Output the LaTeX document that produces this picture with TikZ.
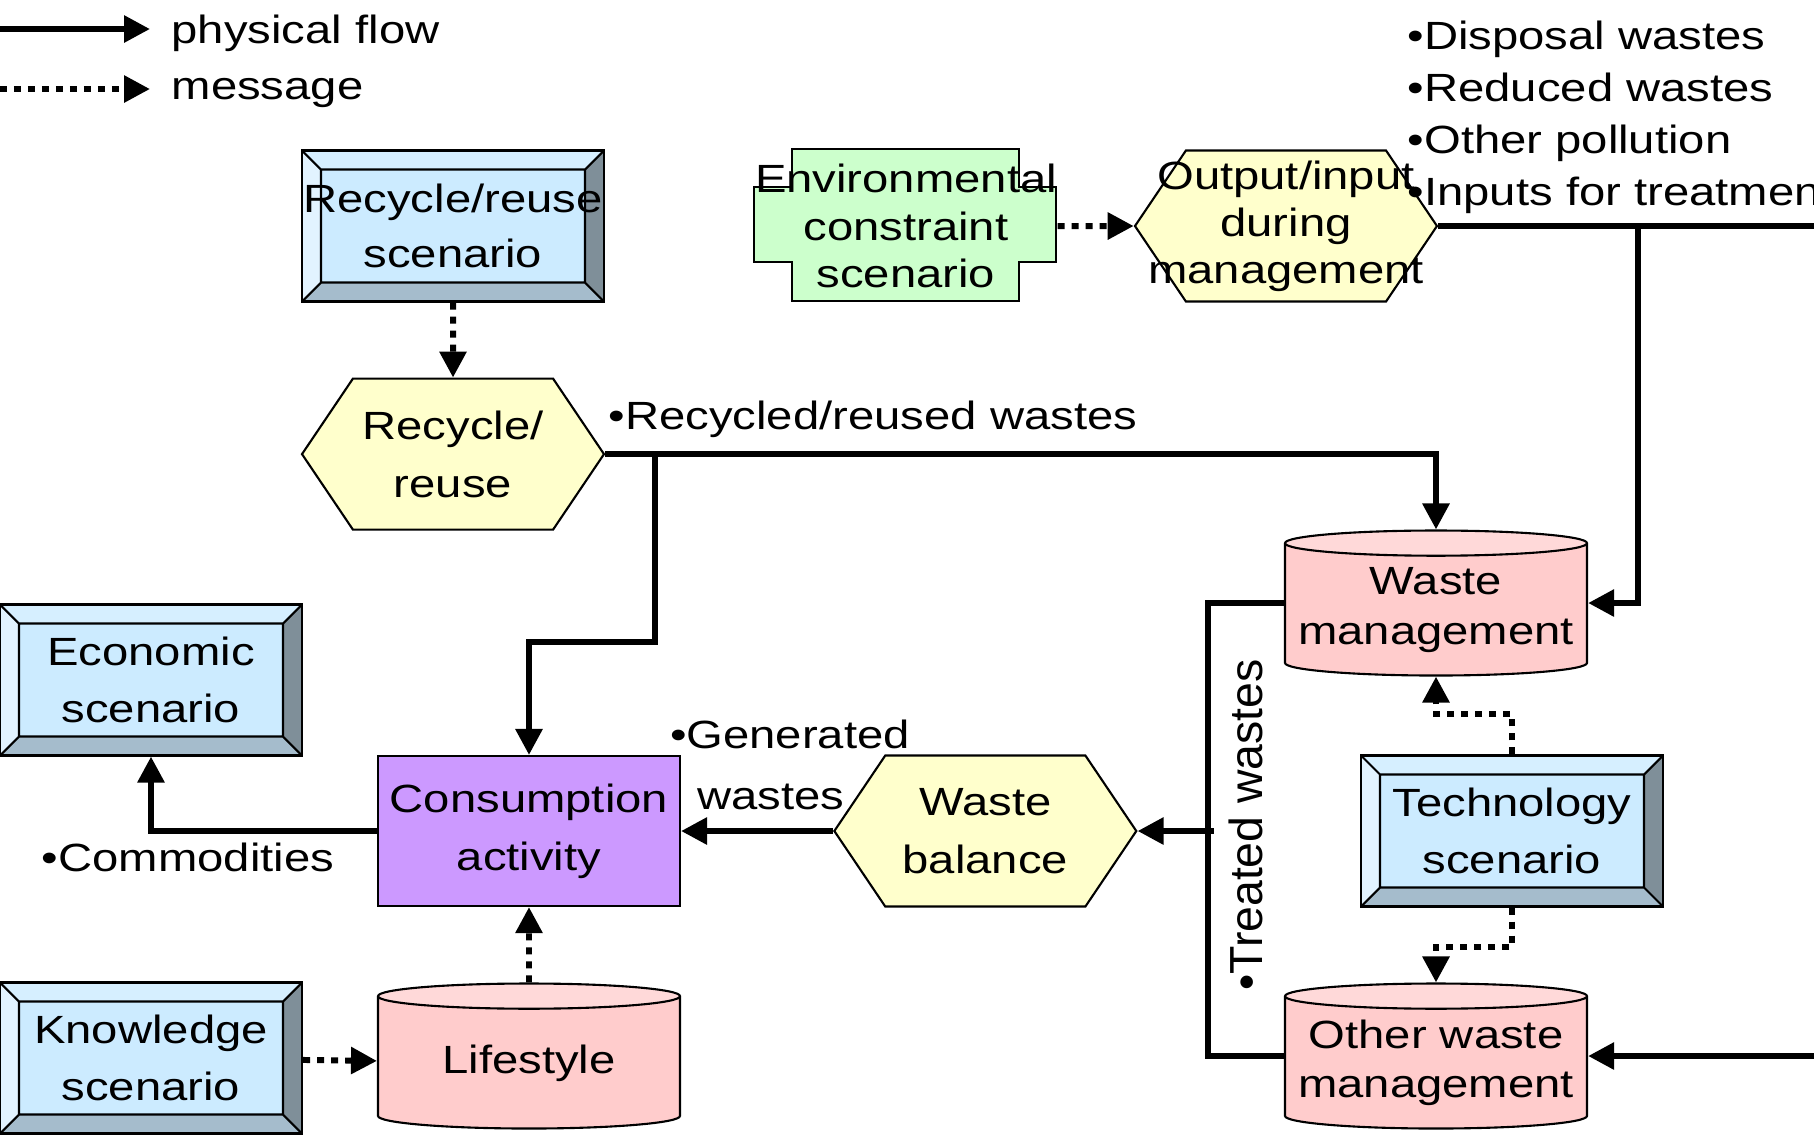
\documentclass[tikz,border=0pt]{standalone}
\usepackage{fontspec}
\setmainfont[FakeStretch=1.2]{Liberation Sans}
\newfontfamily\upsans{Liberation Sans}
\usetikzlibrary{shapes.geometric,shapes.symbols,positioning,arrows.meta,calc,backgrounds}

\definecolor{scenface}{RGB}{204,235,255}
\definecolor{scentop}{RGB}{214,239,255}
\definecolor{scenleft}{RGB}{226,243,255}
\definecolor{scenright}{RGB}{127,143,153}
\definecolor{scenbot}{RGB}{165,188,204}
\definecolor{hexfill}{RGB}{255,255,204}
\definecolor{envfill}{RGB}{204,255,204}
\definecolor{actfill}{RGB}{204,153,255}
\definecolor{dbbody}{RGB}{255,204,204}
\definecolor{dbtop}{RGB}{255,217,217}

\newcommand\fitline[1]{\makebox[\linewidth]{#1}}

\begin{document}
\begin{tikzpicture} [
    x=0.1mm, y=-0.1mm,
    font=\fontsize{11.2}{16.4}\selectfont,
    scenario/.style = { rectangle, draw, line width=0.6pt, fill=scenface,
                        minimum width=30.2mm, minimum height=15.1mm,
                        text width=30.2mm, inner sep=0pt, align=center,
                        path picture={
                          \coordinate (pa) at (path picture bounding box.north west);
                          \coordinate (pb) at (path picture bounding box.north east);
                          \coordinate (pc) at (path picture bounding box.south east);
                          \coordinate (pd) at (path picture bounding box.south west);
                          \fill[scentop]   (pa) -- (pb) -- ($(pb)+(-19,19)$) -- ($(pa)+(19,19)$) -- cycle;
                          \fill[scenright] (pb) -- (pc) -- ($(pc)+(-19,-19)$) -- ($(pb)+(-19,19)$) -- cycle;
                          \fill[scenbot]   (pc) -- (pd) -- ($(pd)+(19,-19)$) -- ($(pc)+(-19,-19)$) -- cycle;
                          \fill[scenleft]  (pd) -- (pa) -- ($(pa)+(19,19)$) -- ($(pd)+(19,-19)$) -- cycle;
                          \draw[line width=0.6pt] ($(pa)+(19,19)$) rectangle ($(pc)+(-19,-19)$)
                            (pa) -- ++(19,19) (pb) -- ++(-19,19) (pc) -- ++(-19,-19) (pd) -- ++(19,-19);
                        } },
    hexa/.style     = { signal, signal to=west and east, signal pointer angle=112,
                        draw, line width=0.6pt, fill=hexfill,
                        minimum width=30.2mm, minimum height=15.1mm,
                        text width=19.5mm, inner sep=0pt, align=center },
    store/.style    = { cylinder, shape border rotate=90, aspect=0.09,
                        draw, line width=0.6pt, cylinder uses custom fill,
                        cylinder body fill=dbbody, cylinder end fill=dbtop,
                        minimum width=30.2mm, minimum height=14.5mm,
                        text width=28mm, inner sep=0pt, align=center,
                        anchor=shape center,
                        font=\fontsize{11.2}{14.2}\selectfont },
    activity/.style = { rectangle, draw, line width=0.6pt, fill=actfill,
                        minimum width=30.2mm, minimum height=15mm,
                        text width=30.2mm, inner sep=0pt, align=center },
    envbox/.style   = { rectangle, minimum width=30.2mm, minimum height=15.2mm,
                        text width=30.2mm, inner sep=0pt, align=center,
                        font=\fontsize{11.2}{13.4}\selectfont },
    tag/.style      = { inner sep=0pt, align=center },
    flow/.style     = { draw, line width=1.7pt, -{Triangle[length=2.6mm,width=2.6mm]} },
    msg/.style      = { flow, dash pattern=on 0.7mm off 0.7mm },
    link/.style     = { draw, line width=1.7pt },
  ]
  \useasboundingbox (0,0) rectangle (1814,1135);

  % legend
  \coordinate (lgflow) at (0,29);
  \coordinate (lgflowend) at (150,29);
  \coordinate (lgmsg) at (0,89);
  \coordinate (lgmsgend) at (150,89);
  \node (lgflowtxt) [tag, anchor=west] at (171,33) {physical flow};
  \node (lgmsgtxt) [tag, anchor=west] at (171,93) {message};
  \draw[flow] (lgflow) -- (lgflowend);
  \draw[msg] (lgmsg) -- (lgmsgend);

  % scenarios and activities
  \node (recscen) [scenario, font=\fontsize{11.2}{15.8}\selectfont] at (453,226)
        {\fitline{Recycle/reuse}\\scenario};
  \node (rechex) [hexa, below=7.5mm of recscen] {Recycle/\\reuse};
  \node (envscen) [envbox] at (906,226) {\fitline{Environmental}\\constraint\\scenario};
  \node (outhex) [hexa, right=7.6mm of envscen, font=\fontsize{11.2}{13.4}\selectfont]
        {\fitline{Output/input}\\during\\\fitline{management}};
  \node (consact) [activity] at (529,831) {Consumption\\activity};
  \node (wastebal) [hexa, right=15.2mm of consact] {Waste\\balance};
  \node (lifestyle) [store] at (529,1056) {Lifestyle};
  \node (knowscen) [scenario] at (151,1058) {Knowledge\\scenario};
  \node (econscen) [scenario] at (151,680) {Economic\\scenario};
  \node (wastemgmt) [store] at (1436,603) {Waste\\management};
  \node (othermgmt) [store] at (1436,1056) {Other waste\\management};
  \node (techscen) [scenario] at (1512,831) {Technology\\scenario};

  \begin{scope}[on background layer]
    \filldraw[fill=envfill, line width=0.6pt] ([xshift=3.8mm]envscen.north west)
      -- ++(227,0) -- ++(0,38) -- ++(37,0) -- ++(0,75) -- ++(-37,0) -- ++(0,39)
      -- ++(-227,0) -- ++(0,-39) -- ++(-38,0) -- ++(0,-75) -- ++(38,0) -- cycle;
  \end{scope}

  % labels
  \node (recyclab) [tag, anchor=west] at (608,419) {\textbullet Recycled/reused wastes};
  \node (genlab) [tag, font=\fontsize{11.2}{17.4}\selectfont] at (790,765)
        {\textbullet Generated\\wastes\hspace*{3.8mm}};
  \node (commlab) [tag] at (188,857) {\textbullet Commodities};
  \node (treatlab) [tag, rotate=90, font=\upsans\fontsize{13.2}{15}\selectfont]
        at (1246,825) {\textbullet Treated wastes};
  \node (outlab) [tag, anchor=north west, align=left,
                  font=\fontsize{11.2}{14.8}\selectfont] at (1407,20)
        {\textbullet Disposal wastes\\\textbullet Reduced wastes\\
         \textbullet Other pollution\\\textbullet Inputs for treatment};

  % connect nodes
  \coordinate (recsplit) at ([xshift=5mm]rechex.east);
  \coordinate (treatjoin) at ([xshift=7.6mm]wastebal.east);
  \coordinate (outsplit) at ([xshift=20mm]outhex.east);
  \coordinate (offtop) at ([xshift=40mm]outhex.east);
  \coordinate (wmleft) at (wastemgmt.shape center -| wastemgmt.west);
  \coordinate (wmright) at (wastemgmt.shape center -| wastemgmt.east);
  \coordinate (omleft) at (othermgmt.shape center -| othermgmt.west);
  \coordinate (omright) at (othermgmt.shape center -| othermgmt.east);
  \coordinate (offlow) at (omright -| offtop);

  \draw[msg] (recscen) -- (rechex);
  \draw[msg] (envscen) -- (outhex);
  \draw[msg] (knowscen) -- (lifestyle);
  \draw[msg] (lifestyle) -- (consact);
  \draw[msg] (techscen.north) -- ++(0,-40) -| (wastemgmt.south);
  \draw[msg] (techscen.south) -- ++(0,39) -| (othermgmt.north);

  \draw[flow] (rechex.east) -| (wastemgmt.north);
  \draw[flow] (recsplit) -- ++(0,188) -| (consact.north);
  \draw[flow] (consact.west) -| (econscen.south);
  \draw[flow] (wastebal.west) -- (consact.east);
  \draw[link] (wmleft) -- ++(-76,0) |- (omleft);
  \draw[flow] (treatjoin) -- (wastebal.east);
  \draw[link] (outhex.east) -- (offtop);
  \draw[flow] (outsplit) |- (wmright);
  \draw[flow] (offlow) -- (omright);
\end{tikzpicture}
\end{document}
